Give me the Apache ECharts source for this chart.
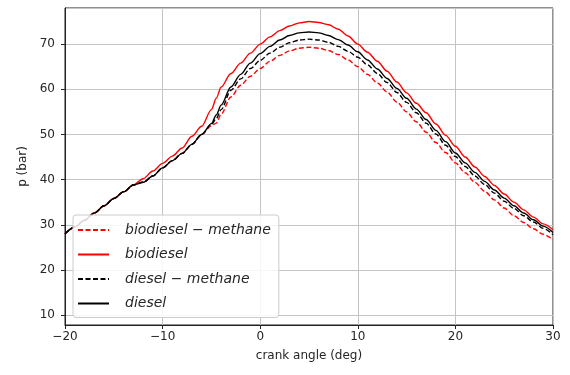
<!DOCTYPE html>
<html>
<head>
<meta charset="utf-8">
<script src="https://cdn.jsdelivr.net/npm/echarts@6/dist/echarts.min.js"></script>
<style>
  html, body { margin: 0; padding: 0; background: #fff; }
  #chart { width: 570px; height: 375px; }
</style>
</head>
<body>
<div id="chart"></div>
<script>
// crank angle (deg)
var angle = [-20, -19, -18, -17, -16, -15, -14, -13, -12, -11, -10, -9, -8, -7, -6, -5, -4.5, -4, -3, -2, -1,
    0, 1, 2, 3, 4, 5, 6, 7, 8, 9, 10, 11, 12, 13, 14, 15, 16, 17, 18, 19, 20,
    21, 22, 23, 24, 25, 26, 27, 28, 29, 30];

// pressure (bar)
var biodieselMethane = [28.0, 29.5, 31.0, 32.6, 34.2, 35.8, 37.3, 38.8, 39.4, 40.8, 42.6, 44.2, 45.8, 47.8, 50.0, 51.9, 52.5, 54.5, 58.3, 60.9, 62.9,
    64.6, 66.2, 67.5, 68.5, 69.1, 69.3, 69.1, 68.6, 67.7, 66.5, 65.0, 63.3, 61.4, 59.4, 57.2, 55.0, 52.8, 50.5, 48.2, 46.0, 43.7,
    41.5, 39.4, 37.4, 35.5, 33.7, 32.0, 30.5, 29.1, 27.9, 26.7];
var biodiesel = [28.0, 29.5, 31.0, 32.6, 34.2, 35.8, 37.3, 38.8, 40.2, 41.9, 43.6, 45.2, 47.0, 49.6, 51.8, 55.5, 58.0, 60.5, 63.5, 65.8, 68.0,
    70.0, 71.6, 73.0, 74.0, 74.7, 75.0, 74.8, 74.3, 73.3, 71.8, 70.0, 68.2, 66.2, 64.0, 61.6, 59.2, 56.9, 54.8, 52.3, 49.8, 47.4,
    45.0, 42.8, 40.7, 38.7, 36.8, 35.0, 33.3, 31.7, 30.2, 28.9];
var dieselMethane = [28.0, 29.5, 31.0, 32.6, 34.2, 35.8, 37.3, 38.8, 39.4, 40.8, 42.6, 44.2, 45.8, 47.8, 50.0, 52.2, 53.5, 55.5, 59.8, 62.3, 64.6,
    66.4, 68.0, 69.3, 70.3, 70.9, 71.1, 70.9, 70.4, 69.5, 68.4, 67.1, 65.4, 63.5, 61.5, 59.3, 57.1, 54.8, 52.5, 50.1, 47.6, 45.1,
    42.9, 40.8, 38.9, 37.0, 35.2, 33.6, 32.0, 30.6, 29.2, 27.8];
var diesel = [28.0, 29.5, 31.0, 32.6, 34.2, 35.8, 37.3, 38.8, 39.4, 40.8, 42.6, 44.2, 45.8, 47.8, 50.0, 52.4, 54.3, 56.5, 60.5, 63.3, 65.8,
    67.9, 69.5, 70.9, 71.9, 72.5, 72.7, 72.5, 71.9, 71.0, 69.8, 68.3, 66.5, 64.5, 62.4, 60.2, 58.0, 55.6, 53.3, 50.9, 48.4, 45.9,
    43.7, 41.6, 39.6, 37.7, 35.9, 34.2, 32.6, 31.1, 29.7, 28.3];

var seriesNames = ['biodiesel \u2212 methane', 'biodiesel', 'diesel \u2212 methane', 'diesel'];
var seriesData = [biodieselMethane, biodiesel, dieselMethane, diesel];
var seriesColors = ['#ff0000', '#ff0000', '#000000', '#000000'];
var seriesDashed = [true, false, true, false];

function pairs(ys) {
    return angle.map(function (x, i) { return [x, ys[i]]; });
}

var font = 'DejaVu Sans';
var textColor = '#262626';

var dom = document.getElementById('chart');
var myChart = echarts.init(dom, null, { renderer: 'canvas' });

var series = seriesNames.map(function (name, i) {
    return {
        name: name,
        type: 'line',
        data: pairs(seriesData[i]),
        showSymbol: false,
        symbol: 'none',
        smooth: 0.3,
        smoothMonotone: 'x',
        animation: false,
        lineStyle: {
            color: seriesColors[i],
            width: 1.4,
            type: seriesDashed[i] ? [5, 2.5] : 'solid'
        },
        itemStyle: { color: seriesColors[i] }
    };
});

var option = {
    backgroundColor: '#fff',
    animation: false,
    grid: {
        left: 65,
        right: 17,
        top: 8,
        bottom: 50,
        show: true,
        borderColor: '#222',
        borderWidth: 1
    },
    legend: {
        orient: 'vertical',
        left: 73,
        top: 215,
        padding: [7, 8, 6, 4],
        itemWidth: 31,
        itemHeight: 16,
        itemGap: 8.5,
        backgroundColor: 'rgba(255,255,255,0.85)',
        borderColor: '#cccccc',
        borderWidth: 1,
        borderRadius: 3,
        data: seriesNames,
        itemStyle: { opacity: 0 },
        textStyle: {
            fontFamily: font,
            fontStyle: 'italic',
            fontSize: 14,
            color: textColor,
            lineHeight: 16,
            padding: [0, 0, 0, 11]
        }
    },
    xAxis: {
        type: 'value',
        min: -20,
        max: 30,
        interval: 10,
        name: 'crank angle (deg)',
        nameLocation: 'middle',
        nameGap: 25,
        nameTextStyle: { fontFamily: font, fontSize: 12, color: textColor },
        axisLine: { show: true, onZero: false, lineStyle: { color: '#222', width: 1 } },
        axisTick: { show: true, length: 4, lineStyle: { color: '#222' } },
        axisLabel: {
            fontFamily: font, fontSize: 12, color: textColor, margin: 6,
            formatter: function (v) { return v < 0 ? '\u2212' + Math.abs(v) : String(v); }
        },
        splitLine: { show: true, lineStyle: { color: '#c4c4c4', width: 1 } }
    },
    yAxis: {
        type: 'value',
        min: 7.8,
        max: 78,
        splitNumber: 7,
        name: 'p (bar)',
        nameLocation: 'middle',
        nameGap: 36,
        nameTextStyle: { fontFamily: font, fontSize: 12, color: textColor },
        axisLine: { show: true, onZero: false, lineStyle: { color: '#222', width: 1 } },
        axisTick: { show: true, length: 4, lineStyle: { color: '#222' } },
        axisLabel: {
            fontFamily: font, fontSize: 12, color: textColor, margin: 10,
            showMinLabel: false, showMaxLabel: false
        },
        splitLine: { show: true, lineStyle: { color: '#c4c4c4', width: 1 } }
    },
    series: series
};

myChart.setOption(option);
window.addEventListener('resize', myChart.resize);
</script>
</body>
</html>
